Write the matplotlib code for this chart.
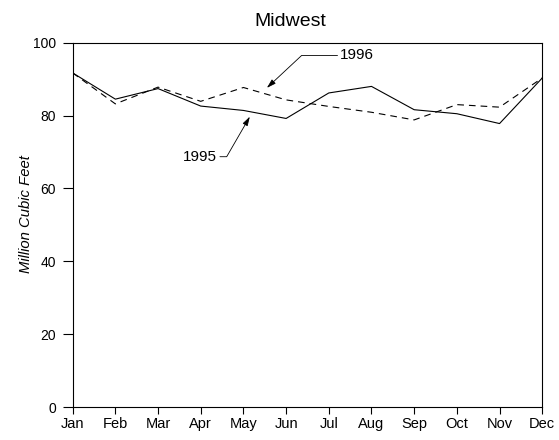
import matplotlib
matplotlib.use("Agg")
import matplotlib.pyplot as plt

months = ["Jan", "Feb", "Mar", "Apr", "May", "Jun", "Jul", "Aug", "Sep", "Oct", "Nov", "Dec"]
y1995 = [91.7, 84.5, 87.4, 82.6, 81.4, 79.2, 86.2, 88.0, 81.6, 80.5, 77.8, 90.3]
y1996 = [91.7, 83.2, 87.8, 83.9, 87.7, 84.3, 82.5, 80.9, 78.8, 83.0, 82.3, 90.3]

plt.rcParams['font.family'] = ['Liberation Sans', 'DejaVu Sans']

fig = plt.figure(figsize=(5.59, 4.4), dpi=100)
ax = fig.add_axes([0.130, 0.075, 0.840, 0.828])
x = range(len(months))
ax.plot(x, y1995, color='black', lw=0.8, ls='-')
ax.plot(x, y1996, color='black', lw=0.8, ls=(0, (6, 4.5)))

ax.set_xlim(0, 11)
ax.set_ylim(0, 100)
ax.set_xticks(list(x))
ax.set_xticklabels(months)
ax.set_yticks([0, 20, 40, 60, 80, 100])
ax.tick_params(axis='x', direction='out', length=5, width=0.8, labelsize=10.5, pad=2.5)
ax.tick_params(axis='y', direction='out', length=7, width=0.8, labelsize=10, pad=5)
for s in ax.spines.values():
    s.set_linewidth(0.8)

fig.text(0.519, 0.941, "Midwest", fontsize=14, ha='center', va='baseline')
ax.set_ylabel("Million Cubic Feet", fontsize=10.7, style='italic')
ax.yaxis.set_label_coords(-0.085, 0.53)

arrow = dict(arrowstyle="-|>,head_length=0.5,head_width=0.15", color='black', lw=0.6,
             shrinkA=0, shrinkB=0)
ax.annotate("1996", xy=(4.55, 87.6), xytext=(6.27, 96.5), fontsize=11, va='center',
            arrowprops=dict(arrow, relpos=(0, 0.5), connectionstyle="angle,angleA=180,angleB=43"))
ax.annotate("1995", xy=(4.15, 79.7), xytext=(3.385, 68.7), fontsize=11, va='center', ha='right',
            arrowprops=dict(arrow, relpos=(1, 0.5), connectionstyle="angle,angleA=0,angleB=60"))

fig.savefig("out.png", dpi=100)
